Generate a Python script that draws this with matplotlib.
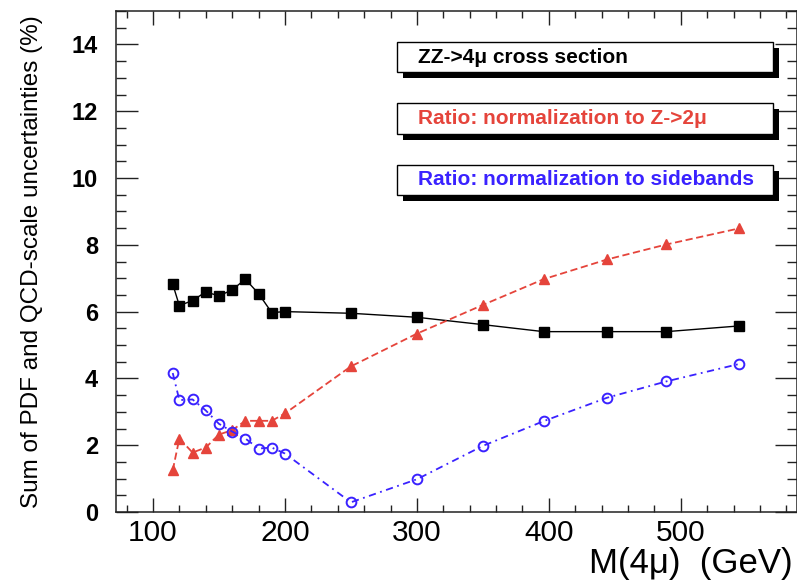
import matplotlib
matplotlib.use("Agg")
import matplotlib.pyplot as plt
from matplotlib.patches import Rectangle
from matplotlib.ticker import MultipleLocator

plt.rcParams["font.family"] = ["Liberation Sans", "DejaVu Sans"]

# Four-muon invariant mass points (GeV)
mass = [115, 120, 130, 140, 150, 160, 170, 180, 190, 200,
        250, 300, 350, 396, 444, 489, 544]

# Sum of PDF and QCD-scale uncertainties (%)
xsec_unc = [6.82, 6.18, 6.33, 6.59, 6.47, 6.65, 6.97, 6.54, 5.97, 6.00,
            5.95, 5.83, 5.61, 5.40, 5.40, 5.40, 5.57]
ratio_z2mu_unc = [1.25, 2.20, 1.78, 1.93, 2.32, 2.45, 2.73, 2.73, 2.73, 2.95,
                  4.36, 5.34, 6.20, 6.97, 7.56, 8.01, 8.49]
ratio_sideband_unc = [4.16, 3.35, 3.37, 3.04, 2.64, 2.41, 2.20, 1.90, 1.93, 1.75,
                      0.29, 0.98, 1.98, 2.72, 3.42, 3.91, 4.43]

legend_labels = ["ZZ->4\u03bc cross section",
                 "Ratio: normalization to Z->2\u03bc",
                 "Ratio: normalization to sidebands"]

RED = "#e5443b"
BLUE = "#3a22ff"

W, H = 797, 582
fig = plt.figure(figsize=(W / 100, H / 100), dpi=100)
ax = fig.add_axes([116 / W, 1 - 512 / H, 681 / W, 501 / H])

ax.plot(mass, xsec_unc, color="black", lw=1.0, ls="-",
        marker="s", ms=6.5, mfc="black", mec="black", zorder=3)
ax.plot(mass, ratio_z2mu_unc, color=RED, lw=1.3, ls=(0, (4, 2)),
        marker="^", ms=7, mfc=RED, mec=RED, zorder=4)
ax.plot(mass, ratio_sideband_unc, color=BLUE, lw=1.3, ls=(0, (4, 2.5, 1, 2.5)),
        marker="o", ms=7, mfc="none", mec=BLUE, mew=1.4, zorder=5)

ax.set_xlim(72, 588)
ax.set_ylim(0, 15)

ax.xaxis.set_major_locator(MultipleLocator(100))
ax.xaxis.set_minor_locator(MultipleLocator(20))
ax.yaxis.set_major_locator(MultipleLocator(2))
ax.yaxis.set_minor_locator(MultipleLocator(0.5))
ax.set_yticks(range(0, 15, 2))

ax.tick_params(axis="both", which="both", direction="in",
               top=True, right=True, width=1.0, color="#222222")
ax.tick_params(axis="y", which="major", length=15.5, pad=13, labelsize=17)
ax.tick_params(axis="y", which="minor", length=7)
ax.tick_params(axis="x", which="major", length=10, pad=5, labelsize=21.5)
ax.tick_params(axis="x", which="minor", length=5.2)
for lab in ax.get_yticklabels():
    lab.set_fontweight("bold")

for sp in ax.spines.values():
    sp.set_linewidth(1.1)
    sp.set_color("#222222")

ax.set_ylabel("Sum of PDF and QCD-scale uncertainties (%)", fontsize=17.5)
ax.yaxis.set_label_coords(-0.107, 0.5)
ax.set_xlabel("M(4\u03bc)  (GeV)", fontsize=25, ha="right", va="baseline")
ax.xaxis.set_label_coords(0.994, -0.1218)

# Legend panels with drop shadows, in axes coordinates
boxes = [(0.938, 0.878), (0.816, 0.754), (0.693, 0.633)]
colors = ["black", RED, BLUE]
x0, x1 = 0.4126, 0.9648
dx, dy = 6 / 681, 6 / 501
for (top, bot), text, col in zip(boxes, legend_labels, colors):
    shadow = Rectangle((x0 + dx, bot - dy), x1 - x0, top - bot,
                       transform=ax.transAxes, facecolor="black",
                       edgecolor="black", lw=0, zorder=6, clip_on=False)
    panel = Rectangle((x0, bot), x1 - x0, top - bot,
                      transform=ax.transAxes, facecolor="white",
                      edgecolor="black", lw=1.0, zorder=7, clip_on=False)
    ax.add_patch(shadow)
    ax.add_patch(panel)
    ax.text(x0 + 21 / 681, (top + bot) / 2, text, transform=ax.transAxes,
            color=col, fontsize=15, fontweight="bold", ha="left",
            va="center", zorder=8)

fig.savefig("out.png", dpi=100)
